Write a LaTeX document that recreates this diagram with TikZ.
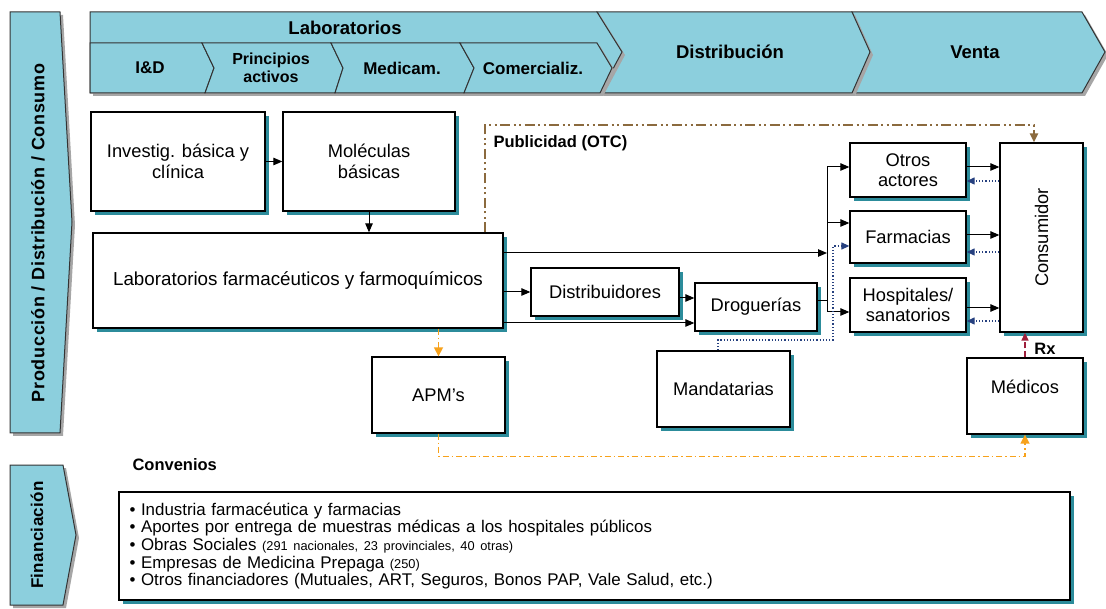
\documentclass[tikz,border=0pt]{standalone}
\usepackage{fontspec}
\setmainfont{Liberation Sans}
\usetikzlibrary{arrows.meta,shadows}

\definecolor{bandfill}{HTML}{8CCFDD}
\definecolor{boxshade}{HTML}{2C8C9B}
\definecolor{publibrown}{HTML}{8B6A3E}
\definecolor{apmorange}{HTML}{F7A21B}
\definecolor{retronavy}{HTML}{26407F}
\definecolor{rxred}{HTML}{9E1F3C}

\tikzset{
  band/.style={draw=black!80, line width=1pt, fill=bandfill,
    general shadow={fill=black!35, shadow xshift=3pt, shadow yshift=-3pt}},
  bandtext/.style={font=\bfseries\fontsize{17}{19}\selectfont, align=center},
  bandhead/.style={bandtext, font=\bfseries\fontsize{18.5}{20}\selectfont},
  box/.style={draw, line width=1.3pt, fill=white, align=center,
    font=\fontsize{18.3}{20.5}\selectfont, inner sep=2pt,
    general shadow={fill=boxshade, shadow xshift=4pt, shadow yshift=-4pt}},
  flow/.style={line width=1pt, -{Triangle[length=9pt,width=7.5pt]}},
  retro/.style={retronavy, dotted, line width=1.2pt, -{Triangle[length=8pt,width=7pt]}},
  publi/.style={publibrown, line width=2.2pt,
    dash pattern=on 10pt off 3.5pt on 2pt off 3.5pt on 2pt off 3.5pt,
    -{Triangle[length=9pt,width=8pt]}},
  apmline/.style={apmorange, line width=1.5pt,
    dash pattern=on 6pt off 3pt on 1.5pt off 3pt,
    -{Triangle[length=9pt,width=9pt]}},
  rxline/.style={rxred, line width=1.5pt, dash pattern=on 6pt off 3pt,
    -{Triangle[length=8pt,width=7pt]}},
}

\begin{document}
\begin{tikzpicture}[x=1pt, y=-1pt]
  \useasboundingbox (0,0) rectangle (1106,609);

  % Chain bands on top
  \draw[band] (852,12) -- (1082,12) -- (1105,52) -- (1082,93) -- (852,93) -- (870,52) -- cycle;
  \draw[band] (597,12) -- (852,12) -- (870,52) -- (852,93) -- (600,93) -- (622,52) -- cycle;
  \draw[band] (90,12) -- (597,12) -- (622,52) -- (600,93) -- (90,93) -- cycle;
  \draw[band] (90,43) -- (202,43) -- (214,68) -- (205,93) -- (90,93) -- cycle;
  \draw[band] (202,43) -- (331,43) -- (343,68) -- (335,93) -- (205,93) -- (214,68) -- cycle;
  \draw[band] (331,43) -- (460,43) -- (474,68) -- (464,93) -- (335,93) -- (343,68) -- cycle;
  \draw[band] (460,43) -- (597,43) -- (612,68) -- (600,93) -- (464,93) -- (474,68) -- cycle;

  \node[bandhead] (hdlab) at (345,28) {Laboratorios};
  \node[bandhead] (hddist) at (730,52) {Distribución};
  \node[bandhead] (hdventa) at (975,52) {Venta};
  \node[bandtext] (hdid) at (150,68) {I\&D};
  \node[bandtext, font=\bfseries\fontsize{16}{18}\selectfont] (hdprin) at (271,68) {Principios\\activos};
  \node[bandtext] (hdmed) at (402,68) {Medicam.};
  \node[bandtext] (hdcom) at (533,68) {Comercializ.};

  % Side bands
  \draw[band] (10,12) -- (60,12) -- (72,222) -- (60,433) -- (10,433) -- cycle;
  \node[bandtext, rotate=90, font=\bfseries\fontsize{18}{20}\selectfont\addfontfeature{LetterSpace=4}] (sidepdc) at (38,233) {Producción / Distribución / Consumo};
  \draw[band] (10,465) -- (63,465) -- (76,535) -- (63,605) -- (10,605) -- cycle;
  \node[bandtext, rotate=90, font=\bfseries\fontsize{17}{19}\selectfont\addfontfeature{LetterSpace=2}] (sidefin) at (37,535) {Financiación};

  % Actors
  \node[box, minimum width=174, minimum height=99] (inv) at (178,161.5) {Investig. básica y\\clínica};
  \node[box, minimum width=172, minimum height=99] (mol) at (369,161.5) {Moléculas\\básicas};
  \node[box, minimum width=410, minimum height=95, font=\fontsize{18.8}{21}\selectfont] (lab) at (298,280.5) {Laboratorios farmacéuticos y farmoquímicos};
  \node[box, minimum width=148, minimum height=48] (dist) at (605,292) {Distribuidores};
  \node[box, minimum width=122, minimum height=48] (drog) at (756,307) {Droguerías};
  \node[box, minimum width=116, minimum height=54] (otros) at (908,170) {Otros\\actores};
  \node[box, minimum width=116, minimum height=52] (farm) at (908,237) {Farmacias};
  \node[box, minimum width=116, minimum height=54] (hosp) at (908,305) {Hospitales/\\sanatorios};
  \node[box, minimum width=83, minimum height=189] (cons) at (1041.5,237.5) {\rotatebox{90}{Consumidor}};
  \node[box, minimum width=133, minimum height=76] (apm) at (438.5,395) {APM’s};
  \node[box, minimum width=133, minimum height=76] (mand) at (723.5,389) {Mandatarias};
  \node[box, minimum width=116, minimum height=76, text depth=18pt] (med) at (1025,396) {Médicos};

  % Flows
  \draw[flow] (inv) -- (mol);
  \draw[flow] (mol.south) -- (mol.south |- lab.north);
  \coordinate (tk1) at (827,167);
  \coordinate (tkf) at (827,223);
  \coordinate (tkl) at (827,253);
  \coordinate (tk2) at (827,312);
  \draw[line width=1pt] (tk1) -- (tk2);
  \draw[flow] (lab.east |- tkl) -- (tkl);
  \draw[flow] (tk1) -- (otros.west |- tk1);
  \draw[flow] (tkf) -- (farm.west |- tkf);
  \draw[flow] (tk2) -- (hosp.west |- tk2);
  \draw[flow] (lab.east |- dist.west) -- (dist.west);
  \draw[flow] ([yshift=-6pt]dist.east) -- ([yshift=9pt]drog.west);
  \draw[flow] ([yshift=-42.5pt]lab.east) -- ([yshift=-16pt]drog.west);
  \draw[line width=1pt] ([yshift=6pt]drog.east) -| (tk2);

  % To and from the consumer
  \draw[flow] ([yshift=3pt]otros.east) coordinate (o1) -- (o1 -| cons.west);
  \draw[flow] ([yshift=2pt]farm.east) coordinate (f1) -- (f1 -| cons.west);
  \draw[flow] ([yshift=-3pt]hosp.east) coordinate (h1) -- (h1 -| cons.west);
  \path ([yshift=-11pt]otros.east) coordinate (o2);
  \path ([yshift=-15pt]farm.east) coordinate (f2);
  \path ([yshift=-16pt]hosp.east) coordinate (h2);
  \draw[retro] (o2 -| cons.west) -- (o2);
  \draw[retro] (f2 -| cons.west) -- (f2);
  \draw[retro] (h2 -| cons.west) -- (h2);

  % Mandatarias
  \coordinate (mandbend) at (833,340);
  \draw[retro] ([xshift=-5.5pt]mand.north) |- (mandbend) |- ([yshift=-9pt]farm.west);

  % Publicidad
  \coordinate (pubtop) at (485,125);
  \draw[publi] (lab.north -| pubtop) |- ([xshift=-7.5pt]cons.north |- pubtop) -- ([xshift=-7.5pt]cons.north);
  \node[anchor=west, font=\bfseries\fontsize{16.5}{18}\selectfont] (publabel) at (490,143) {Publicidad (OTC)};

  % APM's and prescription
  \draw[apmline] (lab.south -| apm.north) -- (apm.north);
  \draw[apmline] (apm.south) -- ++(0,23) -| (med.south);
  \draw[rxline] (med.north) -- (med.north |- cons.south);
  \node[font=\bfseries\fontsize{16.5}{18}\selectfont] (rxlabel) at (1045,349) {Rx};

  % Financing
  \node[anchor=west, font=\bfseries\fontsize{16.5}{18}\selectfont] (convlabel) at (129,465) {Convenios};
  \node[box, minimum width=951, minimum height=108, text width=930pt, align=left,
    font=\fontsize{16.9}{17.6}\selectfont] (finbox) at (594.5,546) {%
    • Industria farmacéutica y farmacias\\
    • Aportes por entrega de muestras médicas a los hospitales públicos\\
    • Obras Sociales {\fontsize{12.8}{13}\selectfont (291 nacionales, 23 provinciales, 40 otras)}\\
    • Empresas de Medicina Prepaga {\fontsize{12.8}{13}\selectfont (250)}\\
    • Otros financiadores (Mutuales, ART, Seguros, Bonos PAP, Vale Salud, etc.)};
\end{tikzpicture}
\end{document}
